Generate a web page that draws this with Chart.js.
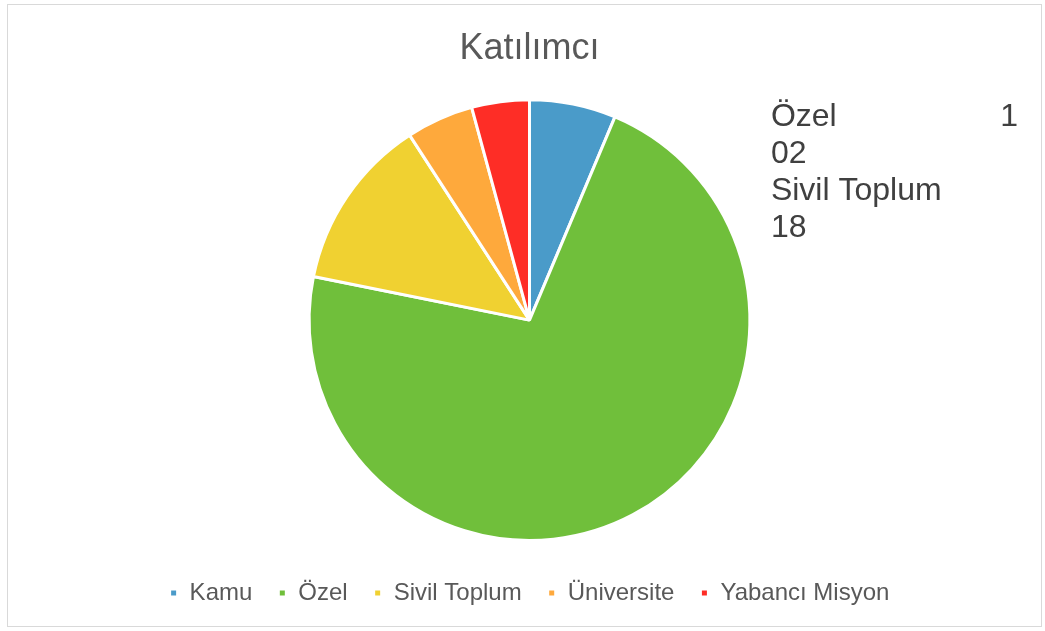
<!DOCTYPE html>
<html>
<head>
<meta charset="utf-8">
<script src="https://cdn.jsdelivr.net/npm/chart.js@4/dist/chart.umd.min.js"></script>
<style>
  html, body { margin: 0; padding: 0; background: #fff; }
  #wrap { position: relative; width: 1045px; height: 631px; }
  #frame { position: absolute; left: 7px; top: 4px; width: 1033px; height: 621px; border: 1px solid #d9d9d9; pointer-events: none; }
  canvas { position: absolute; left: 0; top: 0; }
</style>
</head>
<body>
<div id="wrap">
  <canvas id="pieChart" width="1045" height="631"></canvas>
  <div id="frame"></div>
</div>
<script>
const TITLE = "Katılımcı";
const CATEGORIES = ["Kamu", "Özel", "Sivil Toplum", "Üniversite", "Yabancı Misyon"];
const VALUES = [9, 102, 18, 7, 6];
const COLORS = ['#4a9bc9', '#70bf3b', '#f0d131', '#fea93c', '#fe2d26'];

// stray data labels as they appear on the right side of the original chart
const SIDE_LABELS = [
    { left: "Özel", right: "1" },
    { left: "02" },
    { left: "Sivil Toplum" },
    { left: "18" }
];

const FONT = '"Liberation Sans", Arial, sans-serif';

const sideLabelPlugin = {
    id: 'sideLabels',
    afterDraw(chart) {
        const ctx = chart.ctx;
        const arc = chart.getDatasetMeta(0).data[0];
        if (!arc) return;
        const x0 = arc.x + arc.outerRadius + 21;
        const x1 = chart.width - 27;
        let y = arc.y - arc.outerRadius + 17;
        ctx.save();
        ctx.font = '32px ' + FONT;
        ctx.fillStyle = '#404040';
        ctx.textBaseline = 'middle';
        SIDE_LABELS.forEach(l => {
            ctx.textAlign = 'left';
            ctx.fillText(l.left, x0, y);
            if (l.right) {
                ctx.textAlign = 'right';
                ctx.fillText(l.right, x1, y);
            }
            y += 37;
        });
        ctx.restore();
    }
};

const ctx = document.getElementById('pieChart').getContext('2d');
new Chart(ctx, {
    type: 'pie',
    data: {
        labels: CATEGORIES,
        datasets: [{
            data: VALUES,
            backgroundColor: COLORS,
            borderColor: '#ffffff',
            borderWidth: 3
        }]
    },
    options: {
        responsive: false,
        animation: false,
        layout: { padding: { left: 14, right: 0, top: 0, bottom: 16 } },
        plugins: {
            title: {
                display: true,
                text: TITLE,
                color: '#595959',
                font: { family: FONT, size: 36, weight: 'normal' },
                padding: { top: 27, bottom: 28 }
            },
            legend: {
                position: 'bottom',
                // empty title only used as a spacer above the legend row
                title: {
                    display: true,
                    text: ' ',
                    font: { family: FONT, size: 10, lineHeight: 1 },
                    padding: { top: 3, bottom: 0 }
                },
                labels: {
                    color: '#595959',
                    font: { family: FONT, size: 24 },
                    boxWidth: 8,
                    boxHeight: 8,
                    padding: 26
                }
            },
            tooltip: { enabled: false }
        }
    },
    plugins: [sideLabelPlugin]
});
</script>
</body>
</html>
